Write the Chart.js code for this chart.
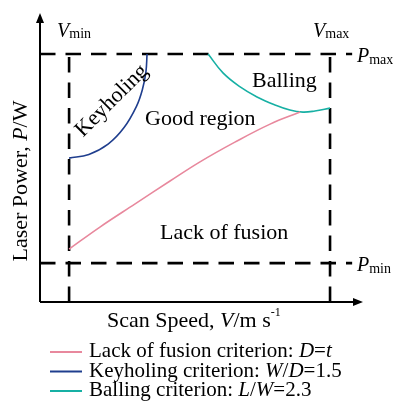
<!DOCTYPE html>
<html>
<head>
<meta charset="utf-8">
<script src="https://cdn.jsdelivr.net/npm/chart.js@4/dist/chart.umd.min.js"></script>
<style>
  html, body { margin: 0; padding: 0; background: #fff; }
</style>
</head>
<body>
<canvas id="myChart" width="393" height="402"></canvas>
<script>
// process window limits (arbitrary units)
const speedLimits = [1.0, 9.97]   // Vmin, Vmax
const powerLimits = [1.36, 8.67]  // Pmin, Pmax
const lineTop = 8.92
const lineRight = 10.73

// lack of fusion criterion D=t
const lackX = [1.00, 2.06, 3.27, 4.47, 5.50, 6.70, 7.91, 8.94]
const lackY = [1.85, 2.62, 3.43, 4.23, 4.90, 5.59, 6.22, 6.64]

// keyholing criterion W/D=1.5
const keyX = [1.00, 1.68, 2.34, 2.89, 3.32, 3.52, 3.64, 3.68]
const keyY = [5.03, 5.16, 5.52, 6.10, 6.85, 7.43, 8.04, 8.67]

// balling criterion L/W=2.3
const ballX = [5.78, 6.29, 6.88, 7.46, 8.08, 8.59, 9.04, 9.45, 9.97]
const ballY = [8.67, 8.01, 7.52, 7.17, 6.89, 6.71, 6.64, 6.68, 6.78]

const zip = (xs, ys) => xs.map((x, i) => ({ x: x, y: ys[i] }))

const SERIF = '"Liberation Serif", "Times New Roman", serif'

const curve = (data, color) => ({
  data: data,
  borderColor: color,
  borderWidth: 1.6,
  pointRadius: 0,
  tension: 0.4,
  fill: false
})

const dashed = (data) => ({
  data: data,
  borderColor: '#000',
  borderWidth: 2.6,
  borderDash: [15.5, 10],
  pointRadius: 0,
  tension: 0,
  fill: false
})

// draw text made of several pieces (italic / sub / sup)
function rich(ctx, x, y, parts) {
  parts.forEach(p => {
    ctx.font = (p.i ? 'italic ' : '') + p.s + 'px ' + SERIF
    ctx.fillText(p.t, x, y + (p.dy || 0))
    x += ctx.measureText(p.t).width
  })
  return x
}

const decor = {
  id: 'decor',
  afterDraw(chart) {
    const ctx = chart.ctx
    const xs = chart.scales.x, ys = chart.scales.y
    const a = chart.chartArea
    ctx.save()
    ctx.fillStyle = '#000'
    ctx.strokeStyle = '#000'
    ctx.lineWidth = 2

    // axes with arrows
    ctx.beginPath()
    ctx.moveTo(a.left, a.bottom)
    ctx.lineTo(a.left, a.top + 4)
    ctx.moveTo(a.left, a.bottom)
    ctx.lineTo(a.right - 4, a.bottom)
    ctx.stroke()
    ctx.beginPath()
    ctx.moveTo(a.left, a.top - 3)
    ctx.lineTo(a.left - 4, a.top + 7)
    ctx.lineTo(a.left + 4, a.top + 7)
    ctx.closePath()
    ctx.fill()
    ctx.beginPath()
    ctx.moveTo(a.right + 3, a.bottom)
    ctx.lineTo(a.right - 7, a.bottom - 4)
    ctx.lineTo(a.right - 7, a.bottom + 4)
    ctx.closePath()
    ctx.fill()

    ctx.textBaseline = 'alphabetic'
    ctx.textAlign = 'left'

    // limit labels
    const vminX = xs.getPixelForValue(speedLimits[0])
    const vmaxX = xs.getPixelForValue(speedLimits[1])
    rich(ctx, vminX - 12, 37, [{ t: 'V', s: 20, i: true }, { t: 'min', s: 14, dy: 1 }])
    rich(ctx, vmaxX - 17, 37, [{ t: 'V', s: 20, i: true }, { t: 'max', s: 14, dy: 1 }])
    const pmaxY = ys.getPixelForValue(powerLimits[1])
    const pminY = ys.getPixelForValue(powerLimits[0])
    rich(ctx, 357, pmaxY + 8, [{ t: 'P', s: 20, i: true }, { t: 'max', s: 14, dy: 2 }])
    rich(ctx, 357, pminY + 8, [{ t: 'P', s: 20, i: true }, { t: 'min', s: 14, dy: 2 }])

    // region labels
    ctx.font = '22px ' + SERIF
    ctx.fillText('Good region', 145, 125)
    ctx.fillText('Balling', 252, 87)
    ctx.fillText('Lack of fusion', 160, 239)
    ctx.save()
    ctx.translate(111, 100)
    ctx.rotate(-Math.PI / 4)
    ctx.textAlign = 'center'
    ctx.fillText('Keyholing', 0, 7)
    ctx.restore()

    // axis titles
    ctx.save()
    ctx.translate(27, 181)
    ctx.rotate(-Math.PI / 2)
    const yParts = [{ t: 'Laser Power, ', s: 22 }, { t: 'P', s: 22, i: true }, { t: '/W', s: 22 }]
    let w = 0
    yParts.forEach(p => { ctx.font = (p.i ? 'italic ' : '') + p.s + 'px ' + SERIF; w += ctx.measureText(p.t).width })
    rich(ctx, -w / 2, 0, yParts)
    ctx.restore()

    rich(ctx, 107, 327, [
      { t: 'Scan Speed, ', s: 22 }, { t: 'V', s: 22, i: true }, { t: '/m s', s: 22 },
      { t: '-1', s: 12, dy: -11 }
    ])

    // legend
    const entries = [
      [{ t: 'Lack of fusion criterion: ', s: 21 }, { t: 'D', s: 21, i: true }, { t: '=', s: 21 }, { t: 't', s: 21, i: true }],
      [{ t: 'Keyholing criterion: ', s: 21 }, { t: 'W', s: 21, i: true }, { t: '/', s: 21 }, { t: 'D', s: 21, i: true }, { t: '=1.5', s: 21 }],
      [{ t: 'Balling criterion: ', s: 21 }, { t: 'L', s: 21, i: true }, { t: '/', s: 21 }, { t: 'W', s: 21, i: true }, { t: '=2.3', s: 21 }]
    ]
    entries.forEach((parts, i) => {
      const ly = 352 + i * 19.5
      ctx.strokeStyle = chart.data.datasets[i].borderColor
      ctx.lineWidth = 2
      ctx.beginPath()
      ctx.moveTo(50, ly)
      ctx.lineTo(82, ly)
      ctx.stroke()
      ctx.fillStyle = '#000'
      rich(ctx, 89, ly + 5, parts)
    })
    ctx.restore()
  }
}

const ctx = document.getElementById('myChart').getContext('2d')
const chart = new Chart(ctx, {
  type: 'line',
  data: {
    datasets: [
      curve(zip(lackX, lackY), '#e8889d'),
      curve(zip(keyX, keyY), '#1f3e8e'),
      curve(zip(ballX, ballY), '#17b0a4'),
      dashed([{ x: speedLimits[0], y: 0 }, { x: speedLimits[0], y: lineTop }]),
      dashed([{ x: speedLimits[1], y: 0 }, { x: speedLimits[1], y: lineTop }]),
      dashed([{ x: 0, y: powerLimits[0] }, { x: lineRight, y: powerLimits[0] }]),
      dashed([{ x: 0, y: powerLimits[1] }, { x: lineRight, y: powerLimits[1] }])
    ]
  },
  options: {
    responsive: false,
    animation: false,
    layout: { padding: { left: 40, right: 33, top: 16, bottom: 100 } },
    scales: {
      x: { type: 'linear', min: 0, max: 11, display: false },
      y: { type: 'linear', min: 0, max: 10, display: false }
    },
    plugins: { legend: { display: false }, tooltip: { enabled: false } }
  },
  plugins: [decor]
})
</script>
</body>
</html>
